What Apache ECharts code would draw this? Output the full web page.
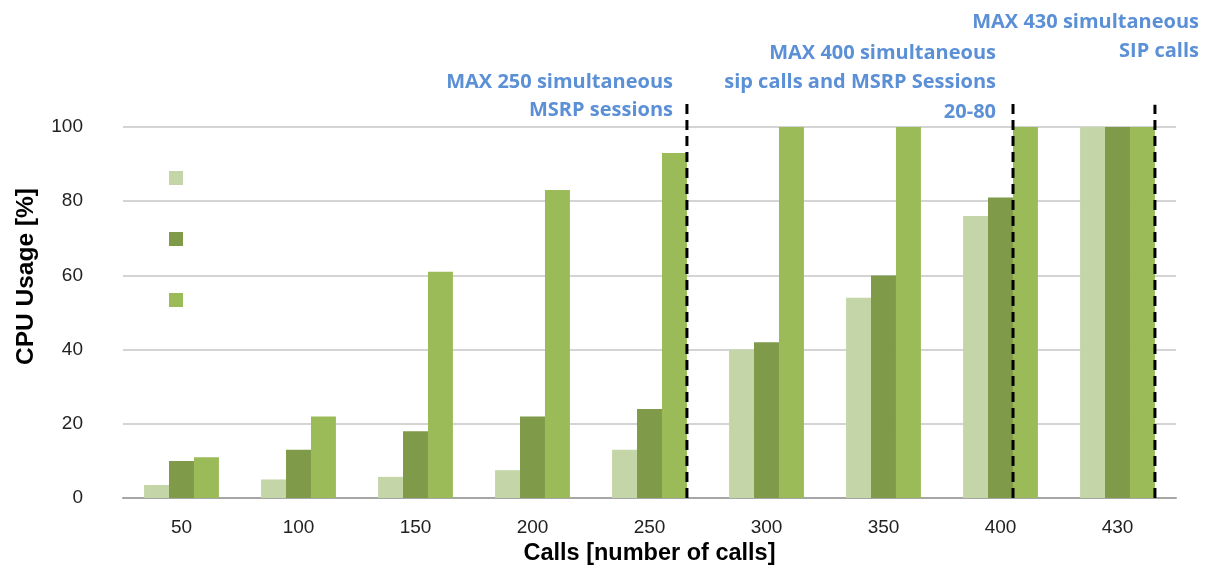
<!DOCTYPE html>
<html>
<head>
<meta charset="utf-8">
<script src="https://cdn.jsdelivr.net/npm/echarts@6/dist/echarts.min.js"></script>
<style>html,body{margin:0;padding:0;background:#fff}#c{width:1211px;height:567px}</style>
</head>
<body>
<div id="c"></div>
<script>
const categories = ['50','100','150','200','250','300','350','400','430'];
const seriesNames = ['Series 1','Series 2','Series 3'];
const seriesA = [3.5, 5, 5.7, 7.5, 13, 40, 54, 76, 100];
const seriesB = [10, 13, 18, 22, 24, 42, 60, 81, 100];
const seriesC = [11, 22, 61, 83, 93, 100, 100, 100, 100];
const yTicks = [0, 20, 40, 60, 80, 100];
// divider lines, x in category-band units (0..9), top in % units
const dividerX = [4.82, 7.607, 8.82];
const dividerTop = [107, 106.5, 106];
const notes = [
  ['MAX 250 simultaneous', 'MSRP sessions'],
  ['MAX 400 simultaneous', 'sip calls and MSRP Sessions', '20-80'],
  ['MAX 430 simultaneous', 'SIP calls']
];
const colors = ['#c4d6a8', '#7f9a48', '#9bbb59'];

// annotation layout (pixels): right edge and line centers
const noteRight = [673, 996, 1199];
const noteLineY = [[82, 110], [53, 82, 112], [22, 51]];

const chart = echarts.init(document.getElementById('c'));
const barSeries = [seriesA, seriesB, seriesC].map((d, i) => ({
  name: seriesNames[i], type: 'bar', data: d,
  xAxisIndex: 0, yAxisIndex: 0,
  barGap: '0%', barCategoryGap: '36%',
  itemStyle: { color: colors[i] }
}));
const lineSeries = dividerX.map((x, i) => ({
  type: 'line', xAxisIndex: 1, yAxisIndex: 0, clip: false,
  symbol: 'none', silent: true,
  data: [[x, 0], [x, dividerTop[i]]],
  lineStyle: { color: '#000', width: 3, type: [10, 6] },
  z: 5
}));
const noteFont = 'bold 20px "Open Sans", sans-serif';
const graphics = [];
notes.forEach((lines, i) => {
  lines.forEach((t, j) => {
    graphics.push({
      type: 'text', right: 1211 - noteRight[i], top: noteLineY[i][j] - 10,
      style: { text: t, font: noteFont, fill: '#5b8fd6' }
    });
  });
});
chart.setOption({
  animation: false,
  grid: { left: 123, right: 35, top: 127, bottom: 69, outerBoundsMode: 'none', containLabel: false },
  legend: {
    data: seriesNames, orient: 'vertical', left: 164, top: 166,
    itemWidth: 14, itemHeight: 14, itemGap: 47, icon: 'rect',
    formatter: () => '', textStyle: { fontSize: 1 }
  },
  xAxis: [{
    type: 'category', data: categories,
    name: 'Calls [number of calls]', nameLocation: 'middle', nameGap: 42,
    nameTextStyle: { fontFamily: 'Liberation Sans', fontWeight: 'bold', fontSize: 23.5, color: '#000' },
    axisLine: { lineStyle: { color: '#a6a6a6', width: 2 } },
    axisTick: { show: false },
    axisLabel: { fontFamily: 'Liberation Sans', fontSize: 19, color: '#222', margin: 20 }
  }, {
    type: 'value', min: 0, max: 9, show: false
  }],
  yAxis: {
    type: 'value', min: 0, max: 100, interval: 20,
    name: 'CPU Usage [%]', nameLocation: 'middle', nameGap: 84,
    nameTextStyle: { fontFamily: 'Liberation Sans', fontWeight: 'bold', fontSize: 24.5, color: '#000', padding: [0, 0, 0, 72] },
    axisLine: { show: false }, axisTick: { show: false },
    axisLabel: { fontFamily: 'Liberation Sans', fontSize: 19, color: '#222', margin: 40,
      formatter: v => yTicks.includes(v) ? String(v) : '' },
    splitLine: { lineStyle: { color: '#d4d4d4', width: 2 } }
  },
  series: barSeries.concat(lineSeries),
  graphic: graphics
});
</script>
</body>
</html>
